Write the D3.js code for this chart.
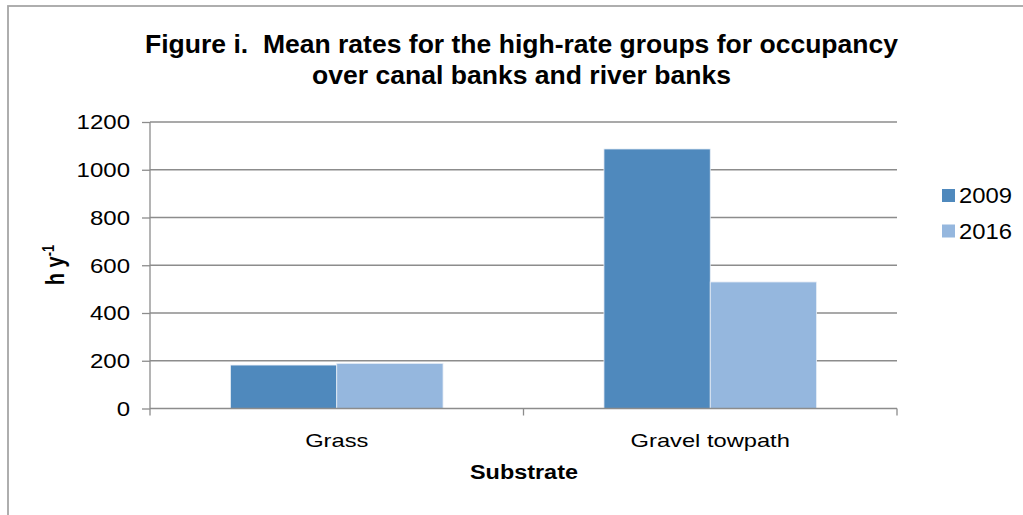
<!DOCTYPE html>
<html>
<head>
<meta charset="utf-8">
<script src="https://cdn.jsdelivr.net/npm/d3@7"></script>
<style>
  body { margin: 0; background: #fff; }
  text { font-family: Arial, "Liberation Sans", sans-serif; }
</style>
</head>
<body>
<div class="box"></div>
<script>
// données
const categories = ['Grass', 'Gravel towpath'];
const series = ['2009', '2016'];
const valeurs2009 = [182, 1087];
const valeurs2016 = [189, 530];
const ticksY = [0, 200, 400, 600, 800, 1000, 1200];
const titres = ['Figure i.  Mean rates for the high-rate groups for occupancy',
                'over canal banks and river banks'];

const dims = {width: 1023, height: 515};
const plot = {left: 150, right: 897, top: 122, bottom: 408.5};
const police = 'Arial, "Liberation Sans", sans-serif';

const svg = d3.select('.box')
              .append('svg')
              .attr('width', dims.width)
              .attr('height', dims.height);

// le texte de l'image est étiré en largeur
const etire = (sel, k) => sel.each(function() {
    this.setAttribute('textLength', this.getComputedTextLength() * k);
    this.setAttribute('lengthAdjust', 'spacingAndGlyphs');
});

// cadre
svg.append('rect')
   .attr('x', 8).attr('y', 6)
   .attr('width', 1030).attr('height', 520)
   .attr('fill', 'none')
   .attr('stroke', '#a6a6a6')
   .attr('stroke-width', 1.8);

const couleur = d3.scaleOrdinal()
                  .domain(series)
                  .range(['#4f89bd', '#95b7de']);

const x = d3.scaleBand()
            .domain(categories)
            .range([plot.left, plot.right]);

const x1 = d3.scaleBand()
             .domain(series)
             .range([0, x.bandwidth()])
             .paddingOuter(0.757);

const y = d3.scaleLinear()
            .domain([0, 1200])
            .range([plot.bottom, plot.top]);

// grille
svg.append('g')
   .selectAll('line')
   .data(ticksY.filter(d => d > 0))
   .enter()
   .append('line')
   .attr('x1', plot.left).attr('x2', plot.right)
   .attr('y1', d => y(d)).attr('y2', d => y(d))
   .attr('stroke', '#8c8c8c')
   .attr('stroke-width', 1.3);

// barres
const donnee = categories.map((c, i) => ({cat: c, vals: [valeurs2009[i], valeurs2016[i]]}));

const groupes = svg.append('g')
                   .selectAll('g')
                   .data(donnee)
                   .enter()
                   .append('g')
                   .attr('transform', d => `translate(${x(d.cat)},0)`);

groupes.selectAll('rect')
       .data(d => d.vals.map((v, j) => ({serie: series[j], v})))
       .enter()
       .append('rect')
       .attr('x', d => x1(d.serie))
       .attr('width', x1.bandwidth())
       .attr('y', d => y(d.v))
       .attr('height', d => y(0) - y(d.v))
       .attr('fill', d => couleur(d.serie))
       .attr('stroke', '#e8eef6')
       .attr('stroke-width', 0.8);

// axe Y
const axeY = svg.append('g')
                .attr('transform', `translate(${plot.left},0)`)
                .call(d3.axisLeft(y).tickValues(ticksY).tickFormat(d3.format('d'))
                        .tickSize(8).tickPadding(12));
axeY.selectAll('path, line').attr('stroke', '#8c8c8c').attr('stroke-width', 1.3);
axeY.select('.domain').attr('d', `M0,${plot.top}V${plot.bottom}`);
axeY.selectAll('text')
    .attr('font-size', 20).attr('fill', '#000')
    .attr('font-family', police)
    .attr('dy', '0.34em')
    .call(etire, 1.2);

// axe X
const axeX = svg.append('g')
                .attr('transform', `translate(0,${plot.bottom})`);
axeX.append('line')
    .attr('x1', plot.left).attr('x2', plot.right)
    .attr('stroke', '#8c8c8c').attr('stroke-width', 1.3);
axeX.selectAll('.tk')
    .data([plot.left, plot.left + x.bandwidth(), plot.right])
    .enter()
    .append('line')
    .attr('x1', d => d).attr('x2', d => d)
    .attr('y1', 0).attr('y2', 7)
    .attr('stroke', '#8c8c8c').attr('stroke-width', 1.3);
axeX.selectAll('text')
    .data(categories)
    .enter()
    .append('text')
    .attr('x', d => x(d) + x.bandwidth() / 2)
    .attr('y', 38.5)
    .attr('text-anchor', 'middle')
    .attr('font-size', 18.5)
    .text(d => d)
    .call(etire, 1.28);

// titres
svg.selectAll('.titre')
   .data(titres)
   .enter()
   .append('text')
   .attr('class', 'titre')
   .attr('x', 521.5)
   .attr('y', (d, i) => 53 + i * 31)
   .attr('text-anchor', 'middle')
   .attr('font-size', 25)
   .attr('font-weight', 'bold')
   .attr('xml:space', 'preserve')
   .text(d => d)
   .attr('textLength', (d, i) => [753, 419][i])
   .attr('lengthAdjust', 'spacingAndGlyphs');

svg.append('text')
   .attr('x', 524).attr('y', 479)
   .attr('text-anchor', 'middle')
   .attr('font-size', 19.5)
   .attr('font-weight', 'bold')
   .text('Substrate')
   .call(etire, 1.2);

const labelY = svg.append('text')
                  .attr('transform', 'translate(64,265) scale(1.25,1) rotate(-90)')
                  .attr('text-anchor', 'middle')
                  .attr('font-size', 20)
                  .attr('font-weight', 'bold');
labelY.append('tspan').text('h y');
labelY.append('tspan').attr('font-size', 13).attr('dy', -8).text('-1');

// légendes
const legendes = svg.append('g')
                    .attr('transform', 'translate(942,189)');
const item = legendes.selectAll('g')
                     .data(series)
                     .enter()
                     .append('g')
                     .attr('transform', (d, i) => `translate(0,${i * 35.5})`);
item.append('rect')
    .attr('width', 13).attr('height', 13)
    .attr('fill', d => couleur(d));
item.append('text')
    .attr('x', 17).attr('y', 14)
    .attr('font-size', 21.5)
    .text(d => d)
    .attr('textLength', 53)
    .attr('lengthAdjust', 'spacingAndGlyphs');
</script>
</body>
</html>
